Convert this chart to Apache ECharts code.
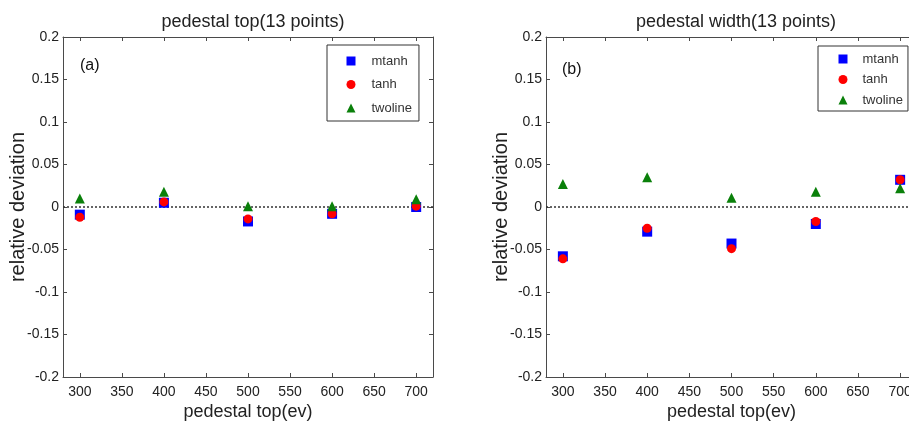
<!DOCTYPE html>
<html>
<head>
<meta charset="utf-8">
<script src="https://cdn.jsdelivr.net/npm/echarts@6/dist/echarts.min.js"></script>
<style>html,body{margin:0;padding:0;background:#fff}#c{width:909px;height:424px}</style>
</head>
<body>
<div id="c"></div>
<script>
// ---- data ----
const xValues = [300, 400, 500, 600, 700];
const xTicks = [300, 350, 400, 450, 500, 550, 600, 650, 700];
const seriesNames = ['mtanh', 'tanh', 'twoline'];

// (a) pedestal top
const topMtanh   = [-0.009, 0.005, -0.017, -0.008, 0.000];
const topTanh    = [-0.012, 0.006, -0.014, -0.008, 0.001];
const topTwoline = [0.010, 0.018, 0.001, 0.001, 0.009];

// (b) pedestal width
const widthMtanh   = [-0.058, -0.029, -0.043, -0.020, 0.032];
const widthTanh    = [-0.061, -0.025, -0.049, -0.017, 0.032];
const widthTwoline = [0.027, 0.035, 0.011, 0.018, 0.022];

const titles = ['pedestal top(13 points)', 'pedestal width(13 points)'];
const panelTags = ['(a)', '(b)'];
const xName = 'pedestal top(ev)';
const yName = 'relative deviation';

// ---- styling ----
const FONT = '"Liberation Sans", Arial, sans-serif';
const AXIS_COLOR = '#4a4a4a';
const LABEL_COLOR = '#222';
const symbols = ['rect', 'circle', 'triangle'];
const colors = ['#0000ff', '#ff0000', '#0a800a'];
const sizes = [10, 9, 10];

const grids = [
  { left: 63, width: 370, top: 37, bottom: 47 },
  { left: 546, width: 371, top: 37, bottom: 47 }
];

function pairs(vals) { return xValues.map((x, i) => [x, vals[i]]); }
const panelData = [
  [topMtanh, topTanh, topTwoline],
  [widthMtanh, widthTanh, widthTwoline]
];

const xAxes = [], yAxes = [], series = [];
grids.forEach((g, gi) => {
  // main bottom x axis
  xAxes.push({
    type: 'value', gridIndex: gi, min: 280, max: 720, position: 'bottom',
    name: xName, nameLocation: 'middle', nameGap: 26, nameMoveOverlap: false,
    nameTextStyle: { fontFamily: FONT, fontSize: 18, color: LABEL_COLOR },
    splitLine: { show: false },
    axisLine: { show: true, onZero: false, lineStyle: { color: AXIS_COLOR, width: 1 } },
    axisTick: { show: true, inside: true, length: 4, customValues: xTicks, lineStyle: { color: AXIS_COLOR } },
    axisLabel: { show: true, customValues: xTicks, margin: 8, fontFamily: FONT, fontSize: 14, color: LABEL_COLOR }
  });
  // top x axis (frame)
  xAxes.push({
    type: 'value', gridIndex: gi, min: 280, max: 720, position: 'top',
    splitLine: { show: false },
    axisLine: { show: true, onZero: false, lineStyle: { color: AXIS_COLOR, width: 1 } },
    axisTick: { show: true, inside: true, length: 4, customValues: xTicks, lineStyle: { color: AXIS_COLOR } },
    axisLabel: { show: false }
  });
  yAxes.push({
    type: 'value', gridIndex: gi, min: -0.2, max: 0.2, interval: 0.05, position: 'left',
    name: yName, nameLocation: 'middle', nameGap: 35, nameRotate: 90, nameMoveOverlap: false,
    nameTextStyle: { fontFamily: FONT, fontSize: 20, color: LABEL_COLOR },
    splitLine: { show: false },
    axisLine: { show: true, onZero: false, lineStyle: { color: AXIS_COLOR, width: 1 } },
    axisTick: { show: true, inside: true, length: 4, lineStyle: { color: AXIS_COLOR } },
    axisLabel: { margin: 4, fontFamily: FONT, fontSize: 14, color: LABEL_COLOR,
      formatter: v => String(Math.round(v * 100) / 100) }
  });
  yAxes.push({
    type: 'value', gridIndex: gi, min: -0.2, max: 0.2, interval: 0.05, position: 'right',
    splitLine: { show: false },
    axisLine: { show: true, onZero: false, lineStyle: { color: AXIS_COLOR, width: 1 } },
    axisTick: { show: true, inside: true, length: 4, lineStyle: { color: AXIS_COLOR } },
    axisLabel: { show: false }
  });
  seriesNames.forEach((name, si) => {
    const s = {
      type: 'scatter', name: name,
      xAxisIndex: gi * 2, yAxisIndex: gi * 2,
      symbol: symbols[si], symbolSize: sizes[si],
      itemStyle: { color: colors[si], opacity: 1 },
      data: pairs(panelData[gi][si]),
      z: 3 + si
    };
    if (si === 0) {
      s.markLine = {
        silent: true, symbol: 'none', label: { show: false },
        lineStyle: { color: '#333', width: 1.5, type: [2, 2] },
        data: [{ yAxis: 0 }], z: 1
      };
    }
    series.push(s);
  });
});

const option = {
  animation: false,
  backgroundColor: '#fff',
  title: [
    { text: titles[0], left: 248, top: 8, textAlign: 'center',
      textStyle: { fontFamily: FONT, fontSize: 18, fontWeight: 'normal', color: LABEL_COLOR } },
    { text: titles[1], left: 731, top: 8, textAlign: 'center',
      textStyle: { fontFamily: FONT, fontSize: 18, fontWeight: 'normal', color: LABEL_COLOR } }
  ],
  legend: [
    { data: seriesNames, orient: 'vertical', left: 327, top: 45,
      itemWidth: 9, itemHeight: 9, itemGap: 10.5,
      padding: [9.5, 7, 6.5, 19.5],
      borderColor: '#333', borderWidth: 1,
      textStyle: { fontFamily: FONT, fontSize: 13, color: '#333', padding: [0, 0, 0, 11] } },
    { data: seriesNames, orient: 'vertical', left: 818, top: 46,
      itemWidth: 9, itemHeight: 9, itemGap: 7.5,
      padding: [6.5, 5, 4.5, 20.5],
      borderColor: '#333', borderWidth: 1,
      textStyle: { fontFamily: FONT, fontSize: 13, color: '#333', padding: [0, 0, 0, 10] } }
  ],
  graphic: [
    { type: 'text', left: 80, top: 58, style: { text: panelTags[0], font: '16px ' + FONT, fill: '#111' } },
    { type: 'text', left: 562, top: 62, style: { text: panelTags[1], font: '16px ' + FONT, fill: '#111' } }
  ],
  grid: grids.map(g => Object.assign({ containLabel: false, outerBoundsMode: 'none' }, g)),
  xAxis: xAxes,
  yAxis: yAxes,
  series: series
};

const chart = echarts.init(document.getElementById('c'), null, { renderer: 'canvas' });
chart.setOption(option);
</script>
</body>
</html>
